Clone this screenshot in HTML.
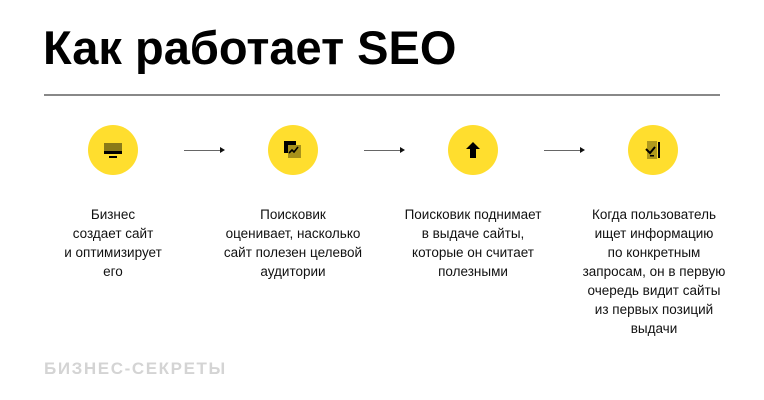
<!DOCTYPE html>
<html><head><meta charset="utf-8"><style>
body{margin:0;width:764px;height:400px;background:#fff;position:relative;overflow:hidden;font-family:"Liberation Sans","DejaVu Sans",sans-serif;}
h1{position:absolute;left:43px;top:20px;margin:0;font-size:47px;font-weight:bold;letter-spacing:0px;color:#000;line-height:56px;}
.rule{position:absolute;left:44px;top:94px;width:676px;height:2px;background:#888;}
.c{position:absolute;top:125px;width:50px;height:50px;border-radius:50%;background:#ffde2e;}
.c svg{position:absolute;left:15px;top:15px;}
.ar{position:absolute;top:150px;width:36px;height:1px;background:#666;}
.ar:after{content:"";position:absolute;right:-5px;top:-3px;border-left:5px solid #111;border-top:3.5px solid transparent;border-bottom:3.5px solid transparent;}
.t{position:absolute;top:205px;width:170px;text-align:center;font-size:13.5px;line-height:19px;color:#111;}
.f{position:absolute;left:44px;top:359px;font-size:17px;font-weight:bold;color:#d4d4d4;letter-spacing:1.6px;}
</style></head><body>
<h1>Как работает SEO</h1>
<div class="rule"></div>
<div class="c" style="left:88px"><svg width="20" height="20"><rect x="1" y="3" width="18" height="11" fill="#8a7a18"/><rect x="1" y="11" width="18" height="3" fill="#000"/><rect x="6" y="16" width="8" height="2" fill="#000"/></svg></div>
<div class="c" style="left:268px"><svg width="20" height="20"><rect x="1" y="1" width="12" height="12" fill="#000"/><rect x="5" y="5" width="13" height="13" fill="#a8921a"/><polyline points="6,13 9,10 11,12 15,7" stroke="#000" stroke-width="1.6" fill="none"/></svg></div>
<div class="c" style="left:448px"><svg width="20" height="20"><polygon points="10,2 17,9 13,9 13,18 7,18 7,9 3,9" fill="#000"/></svg></div>
<div class="c" style="left:628px"><svg width="20" height="20"><rect x="4" y="1" width="10" height="18" fill="#b09a1c"/><polyline points="3,9 7,13 12,7" stroke="#000" stroke-width="2" fill="none"/><rect x="15" y="2" width="2" height="16" fill="#000"/><rect x="7" y="15" width="4" height="1.5" fill="#000"/></svg></div>
<div class="ar" style="left:184px"></div>
<div class="ar" style="left:364px"></div>
<div class="ar" style="left:544px"></div>
<div class="t" style="left:28px">Бизнес<br>создает сайт<br>и оптимизирует<br>его</div>
<div class="t" style="left:208px">Поисковик<br>оценивает, насколько<br>сайт полезен целевой<br>аудитории</div>
<div class="t" style="left:388px">Поисковик поднимает<br>в выдаче сайты,<br>которые он считает<br>полезными</div>
<div class="t" style="left:569px">Когда пользователь<br>ищет информацию<br>по конкретным<br>запросам, он в первую<br>очередь видит сайты<br>из первых позиций<br>выдачи</div>
<div class="f">БИЗНЕС-СЕКРЕТЫ</div>
</body></html>
